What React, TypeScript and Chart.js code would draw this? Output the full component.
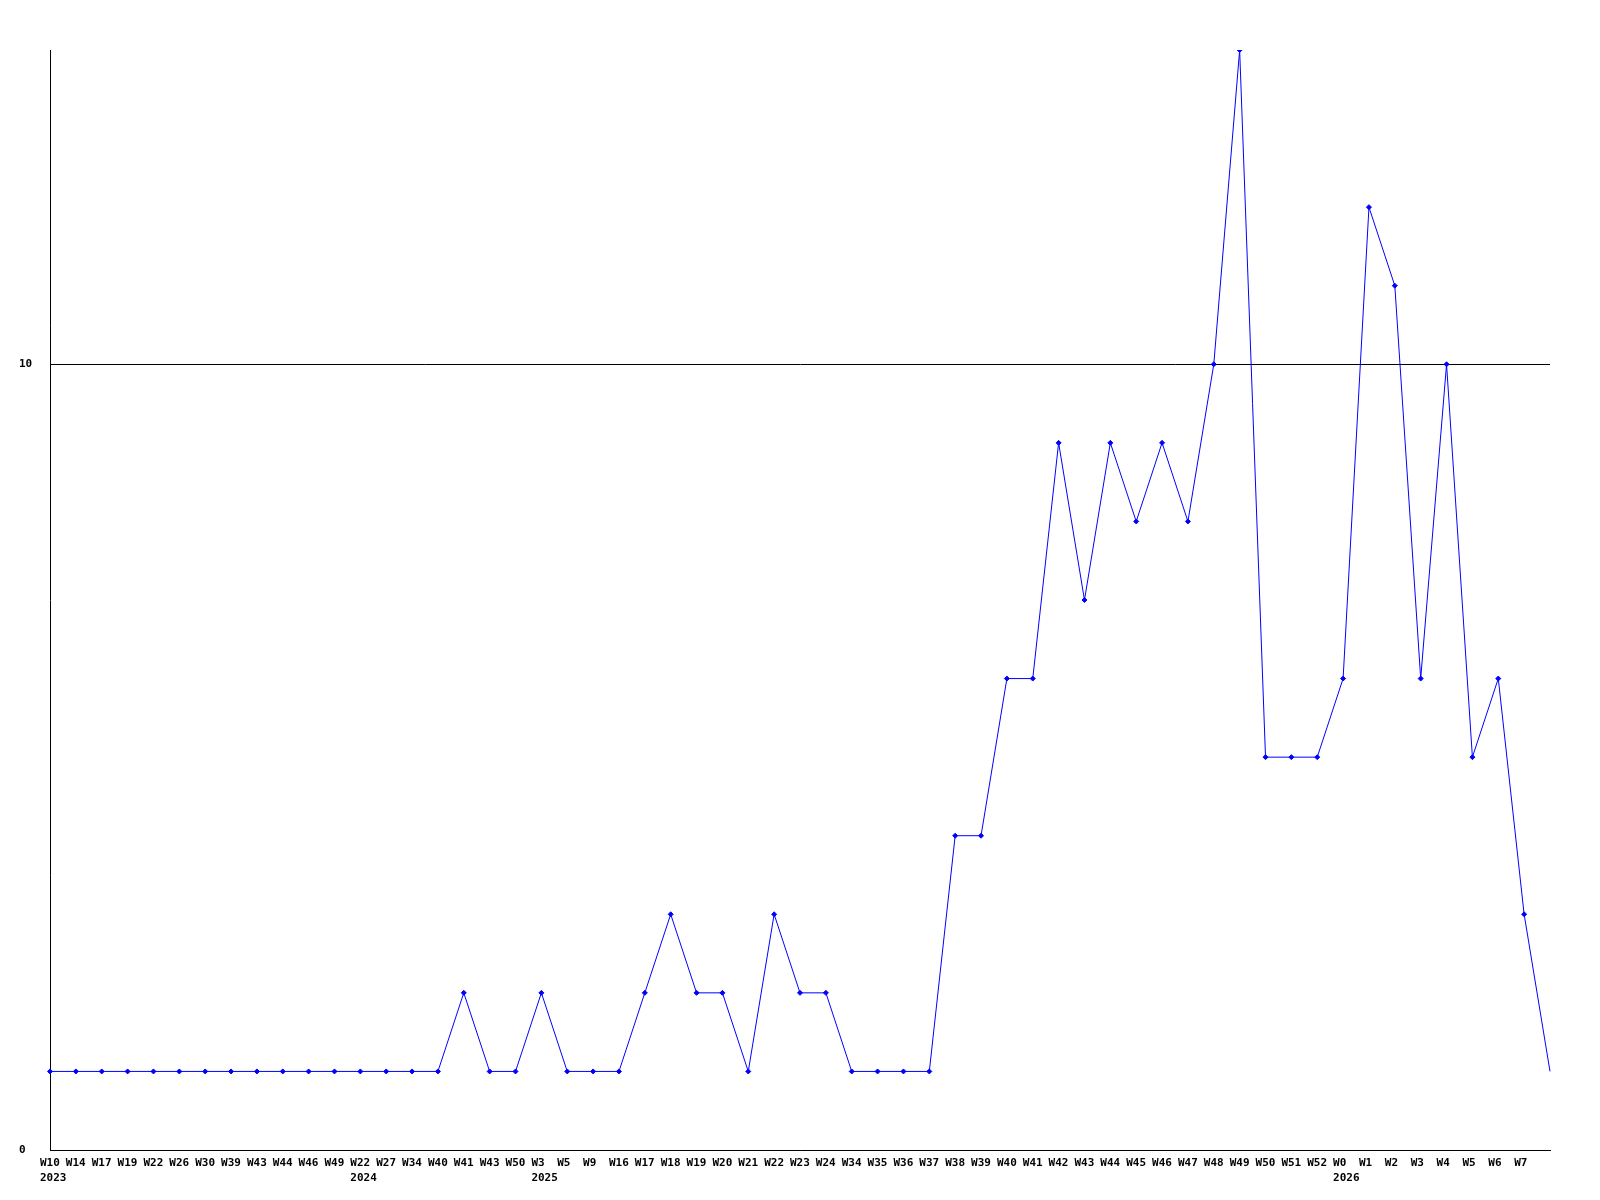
import React, { useEffect, useRef } from "react";
import { Chart, registerables } from "chart.js";

Chart.register(...registerables);

const weeks: string[] = [
  "W10", "W14", "W17", "W19", "W22", "W26", "W30", "W39", "W43", "W44", "W46", "W49",
  "W22", "W27", "W34", "W40", "W41", "W43", "W50",
  "W3", "W5", "W9", "W16", "W17", "W18", "W19", "W20", "W21", "W22", "W23", "W24",
  "W34", "W35", "W36", "W37", "W38", "W39", "W40", "W41", "W42", "W43", "W44", "W45",
  "W46", "W47", "W48", "W49", "W50", "W51", "W52",
  "W0", "W1", "W2", "W3", "W4", "W5", "W6", "W7", "",
];

const yearMarks: Record<number, string> = { 0: "2023", 12: "2024", 19: "2025", 50: "2026" };

const counts: number[] = [
  1, 1, 1, 1, 1, 1, 1, 1, 1, 1, 1, 1,
  1, 1, 1, 1, 2, 1, 1,
  2, 1, 1, 1, 2, 3, 2, 2, 1, 3, 2, 2,
  1, 1, 1, 1, 4, 4, 6, 6, 9, 7, 9, 8,
  9, 8, 10, 14, 5, 5, 5,
  6, 12, 11, 6, 10, 5, 6, 3, 1,
];

const yTicks: number[] = [0, 10];

export default function App() {
  const ref = useRef<HTMLCanvasElement | null>(null);

  useEffect(() => {
    if (!ref.current) return;
    const labels = weeks.map((w, i) => (yearMarks[i] ? [w, yearMarks[i]] : w));
    const font = { family: "'DejaVu Sans Mono', monospace", size: 11, weight: "bold" as const, lineHeight: 1.364 };
    const chart = new Chart(ref.current, {
      type: "line",
      data: {
        labels,
        datasets: [
          {
            data: counts,
            borderColor: "#0000ff",
            backgroundColor: "#0000ff",
            borderWidth: 1,
            tension: 0,
            pointStyle: "rectRot",
            pointRadius: counts.map((_, i) => (i === counts.length - 1 ? 0 : 2.5)),
            pointBorderWidth: 1,
            pointBorderColor: "#0000ff",
            pointBackgroundColor: "#0000ff",
            fill: false,
          },
        ],
      },
      options: {
        responsive: false,
        animation: false,
        layout: { padding: { left: 11, top: 42, right: 42, bottom: 0 } },
        plugins: { legend: { display: false }, tooltip: { enabled: false }, title: { display: false } },
        scales: {
          x: {
            type: "category",
            offset: false,
            grid: { display: false, drawTicks: false },
            border: { display: true, color: "#000000", width: 1 },
            ticks: {
              autoSkip: false,
              maxRotation: 0,
              minRotation: 0,
              align: "start",
              labelOffset: -10,
              padding: 6,
              color: "#000000",
              font,
            },
            afterFit: (s: any) => {
              s.height = 42;
            },
          },
          y: {
            min: 0,
            max: 14,
            grid: { display: true, color: "#000000", lineWidth: 1, drawTicks: false },
            border: { display: true, color: "#000000", width: 1 },
            afterBuildTicks: (s: any) => {
              s.ticks = yTicks.map((v) => ({ value: v }));
            },
            ticks: {
              crossAlign: "far",
              color: "#000000",
              font,
              callback: (v: any) => String(v),
            },
            afterFit: (s: any) => {
              s.width = 31;
            },
          },
        },
      },
    });
    return () => chart.destroy();
  }, []);

  return <canvas ref={ref} width={1584} height={1184} />;
}
